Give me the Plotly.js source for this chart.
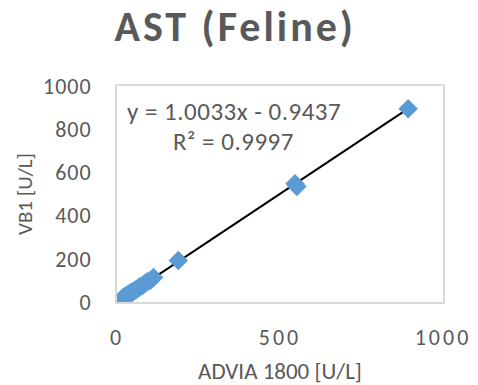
<!DOCTYPE html>
<html>
<head>
<meta charset="utf-8">
<script src="https://cdn.plot.ly/plotly-3.0.1.min.js"></script>
<style>
  html, body { margin: 0; padding: 0; background: #fff; }
  #chart { width: 478px; height: 385px; }
  .gtitle { letter-spacing: 3px; }
  .xtick text { letter-spacing: 3px; }
  .ytick text { letter-spacing: 1px; }
  .annotation-text { letter-spacing: 0.5px; }
</style>
</head>
<body>
<div id="chart"></div>
<script>
// AST activity, feline samples: ADVIA 1800 vs VB1
const advia = [18, 21, 24, 27, 30, 33, 36, 40, 44, 48, 53, 58, 64, 70, 77, 85, 93, 102, 112, 188, 546, 552, 893];
const vb1   = [20, 19, 25, 26, 30, 31, 37, 38, 45, 46, 52, 57, 63, 71, 75, 84, 94, 100, 113, 192, 548, 535, 895];

// Linear fit reported for the data
const slope = 1.0033;
const intercept = -0.9437;
const rSquared = 0.9997;

const xTicks = [0, 500, 1000];
const yTicks = [0, 200, 400, 600, 800, 1000];

const font = 'Carlito, Calibri, Lato, sans-serif';
const grey = '#595959';

const xMin = Math.min(...advia), xMax = Math.max(...advia);
const fitX = [xMin, xMax];
const fitY = fitX.map(v => slope * v + intercept);

const points = {
  x: advia, y: vb1, type: 'scatter', mode: 'markers',
  marker: { symbol: 'diamond', size: 15, color: '#5B9BD5' },
  hoverinfo: 'x+y'
};
const fit = {
  x: fitX, y: fitY, type: 'scatter', mode: 'lines',
  line: { color: '#000', width: 2 }, hoverinfo: 'skip'
};

const sign = intercept < 0 ? ' - ' : ' + ';
const layout = {
  width: 478, height: 385,
  margin: { l: 117, r: 35, t: 86, b: 83 },
  paper_bgcolor: '#fff', plot_bgcolor: '#fff',
  showlegend: false,
  font: { family: font, color: grey },
  title: {
    text: '<b>AST (Feline)</b>',
    font: { family: font, size: 42, color: grey },
    x: 0.492, xanchor: 'center', y: 0.932, yanchor: 'middle'
  },
  xaxis: {
    range: [0, 1000], tickvals: xTicks, ticktext: xTicks.map(String),
    showgrid: false, zeroline: false,
    showline: true, linecolor: '#d9d9d9', linewidth: 2, mirror: true,
    ticks: '', tickfont: { size: 22, color: grey },
    ticklabelstandoff: 15,
    title: { text: 'ADVIA 1800 [U/L]', font: { size: 23, color: grey }, standoff: 13 }
  },
  yaxis: {
    range: [0, 1000], tickvals: yTicks, ticktext: yTicks.map(String),
    showgrid: false, zeroline: false,
    showline: true, linecolor: '#d9d9d9', linewidth: 2, mirror: true,
    ticks: '', tickfont: { size: 22, color: grey },
    ticklabelstandoff: 19,
    title: { text: 'VB1 [U/L]', font: { size: 21, color: grey }, standoff: 5 }
  },
  annotations: [
    {
      xref: 'paper', yref: 'paper', x: 0.359, y: 0.882, xanchor: 'center', yanchor: 'middle',
      text: 'y = ' + slope.toFixed(4) + 'x' + sign + Math.abs(intercept).toFixed(4),
      showarrow: false, font: { family: font, size: 25, color: grey }
    },
    {
      xref: 'paper', yref: 'paper', x: 0.356, y: 0.742, xanchor: 'center', yanchor: 'middle',
      text: 'R² = ' + rSquared.toFixed(4),
      showarrow: false, font: { family: font, size: 25, color: grey }
    }
  ]
};

Plotly.newPlot('chart', [fit, points], layout, { staticPlot: true, displayModeBar: false });
</script>
</body>
</html>
